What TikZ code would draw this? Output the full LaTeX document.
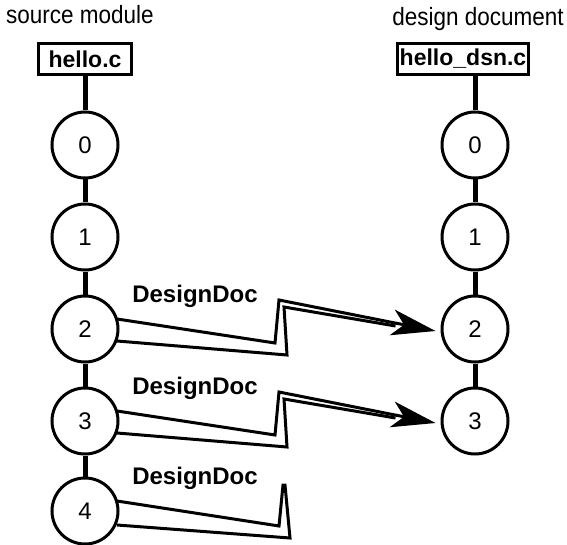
\documentclass[tikz,border=0pt]{standalone}
\usepackage{fontspec}
\setmainfont{Liberation Sans}
\newfontfamily\narrowsans[FakeStretch=0.9]{Liberation Sans}
\usetikzlibrary{arrows.meta,calc}

% double zig-zag connector from a state of the source to a state of the document
\newcommand\zapline[2]{%
\draw[zap,-{Stealth[length=44pt,width=26pt,inset=12pt]}] ($(#1)+(32,-10)$)--($(#1)+(190,14)$)--($(#1)+(194,-29)$)--($(#2.west)+(-5,2)$);
\draw[zap] ($(#1)+(32,12)$)--($(#1)+(202,26)$)--($(#1)+(199,-22)$)--($(#2.west)+(-45,-3)$);}

\begin{document}
\begin{tikzpicture}[x=1pt,y=-1pt,font=\fontsize{24}{28}\selectfont,
  state/.style={draw,circle,line width=3pt,minimum size=66pt,inner sep=0pt},
  file/.style={draw,line width=3.5pt,font=\fontsize{23}{27}\selectfont\bfseries,inner sep=2pt,minimum height=31pt},
  stem/.style={line width=5pt},
  zap/.style={line width=3pt}]
\useasboundingbox (0,0) rectangle (567,545);
\node[font=\fontsize{25}{28}\narrowsans] (srclab) at (80,15) {source module};\node[font=\fontsize{25}{28}\narrowsans] (dsnlab) at (478,19) {design document};
\node[file,minimum width=93pt] (src) at (85,59) {hello.c};\node[file] (dsn) at (463,59) {hello\_dsn.c};
\foreach \i/\y in {0/145,1/237,2/329,3/421,4/511}{\node[state] (s\i) at (85,\y) {\i};}
\foreach \i/\y in {0/145,1/237,2/329,3/421}{\node[state] (d\i) at (475,\y) {\i};}
\draw[stem] (src)--(s0) (s0)--(s1) (s1)--(s2) (s2)--(s3) (s3)--(s4);
\draw[stem] (dsn.south -| d0)--(d0) (d0)--(d1) (d1)--(d2) (d2)--(d3);
\foreach \i in {2,3,4}{\node[font=\fontsize{24}{28}\selectfont\bfseries] (l\i) at ($(s\i)+(110,-33)$) {DesignDoc};}
\zapline{s2}{d2}
\zapline{s3}{d3}
\coordinate (end4) at ($(s4)+(198,-26)$);
\draw[zap] ($(s4)+(32,-10)$)--($(s4)+(194,15)$)--(end4)--($(s4)+(200,-26)$)--($(s4)+(205,27)$)--($(s4)+(32,14)$);
\end{tikzpicture}
\end{document}
